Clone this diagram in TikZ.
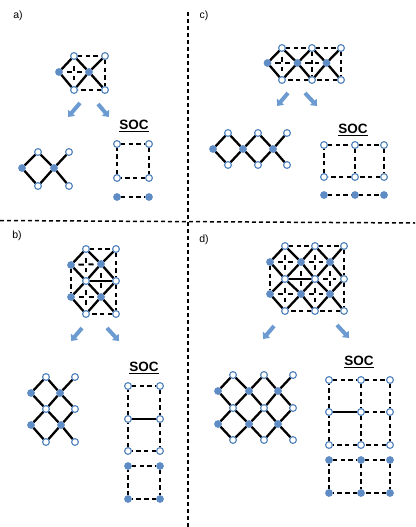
\documentclass[tikz,border=0pt]{standalone}
\usepackage{fontspec}
\setmainfont{Liberation Sans}
\usetikzlibrary{arrows.meta,backgrounds}
\definecolor{nodeblue}{RGB}{79,129,189}
\definecolor{fillblue}{RGB}{95,140,196}
\definecolor{arrowblue}{RGB}{108,155,209}
\tikzset{
  x=1pt,y=-1pt,
  opn/.style={circle,draw=nodeblue,fill=white,line width=1.1pt,minimum size=6.8pt,inner sep=0pt},
  fld/.style={circle,draw=fillblue,fill=fillblue,line width=0.4pt,minimum size=7.2pt,inner sep=0pt},
  sol/.style={line width=2.3pt,black,line cap=round},
  dsh/.style={line width=2pt,black,dash pattern=on 4.5pt off 3.2pt},
  plush/.style={line width=2pt,black,dash pattern=on 5.5pt off 4.5pt,shorten >=3.7pt,shorten <=3.7pt},
  plusv/.style={line width=2pt,black,dash pattern=on 5.5pt off 4.5pt,shorten >=4.7pt,shorten <=4.7pt},
  sep/.style={line width=1.5pt,black,dash pattern=on 4pt off 3pt},
  blk/.style={line width=4pt,arrowblue,-{Triangle[length=5.5pt,width=9pt]}},
  lab/.style={font=\fontsize{10.5pt}{12pt}\selectfont,inner sep=0pt},
  soc/.style={font=\bfseries\fontsize{13.5pt}{15pt}\selectfont,inner sep=0pt},
}
\begin{document}
\begin{tikzpicture}
\useasboundingbox (0,0) rectangle (415,527);
% labels
\node[lab] (la) at (18,16) {a)};
\node[lab] (lc) at (204,16) {c)};
\node[lab] (lb) at (17,236) {b)};
\node[lab] (ld) at (204,240) {d)};
\node[soc] (sa) at (134,126) {\underline{SOC}};
\node[soc] (sc) at (353,130) {\underline{SOC}};
\node[soc] (sb) at (144,368) {\underline{SOC}};
\node[soc] (sd) at (359,362) {\underline{SOC}};
% panel separators
\coordinate (v1) at (188,12);
\coordinate (v2) at (188,527);
\coordinate (h1) at (0,220.5);
\coordinate (h2) at (415,223);
\draw[sep] (v1) -- (v2);
\draw[sep] (h1) -- (h2);
% panel a nodes
\foreach \n/\x/\y in {at1/74/56,at2/105/56,ab1/74/90,ab2/105/90,
  bt1/38/152,bt2/69/152,bb1/38/186,bb2/69/186,
  s1/117/144,s2/149/144,s3/117/178,s4/149/178}
  \node[opn] (\n) at (\x,\y) {};
\foreach \n/\x/\y in {am1/59/72,am2/89/72,bm1/22/168,bm2/54/168,s5/117/197,s6/149/197}
  \node[fld] (\n) at (\x,\y) {};
% panel c nodes
\foreach \n/\x/\y in {ct1/282/48,ct2/312/48,ct3/341/48,cb1/282/80,cb2/312/80,cb3/341/80,
  dt1/228/133,dt2/258/133,dt3/287/133,db1/228/165,db2/258/165,db3/287/165,
  c1/324/145,c2/355/145,c3/384/145,c4/324/177,c5/355/177,c6/384/177}
  \node[opn] (\n) at (\x,\y) {};
\foreach \n/\x/\y in {cm1/267.5/63,cm2/297.5/63,cm3/326.5/63,dm1/213/149,dm2/243/149,dm3/273/149,
  c7/324/195,c8/355/195,c9/384/195}
  \node[fld] (\n) at (\x,\y) {};
% panel b nodes
\foreach \n/\x/\y in {et1/86/249,et2/116/249,em1/86/281,em2/116/281,eb1/86/314,eb2/116/314,
  ft1/46/377,ft2/75/377,fm1/46/409,fm2/75/409,fb1/46/442,fb2/75/442,
  e1/128/386,e2/160/386,e3/128/419,e4/160/419,e5/128/451,e6/160/451}
  \node[opn] (\n) at (\x,\y) {};
\foreach \n/\x/\y in {eu1/71/265,eu2/101/264,el1/71/297,el2/101/297,
  fu1/31/393,fu2/60/393,fl1/31/425,fl2/61/425,
  e7/128/466,e8/160/466,e9/128/499,e10/160/499}
  \node[fld] (\n) at (\x,\y) {};
% panel d nodes
\foreach \n/\x/\y in {gt1/285/246,gt2/315/246,gt3/344/246,gm1/285/279,gm2/315/279,gm3/344/279,gb1/285/311,gb2/315/311,gb3/344/311,
  ht1/233/375,ht2/264/375,ht3/293/375,hm1/233/408,hm2/264/408,hm3/293/408,hb1/233/440,hb2/264/440,hb3/293/440,
  k1/329/380,k2/361/380,k3/390/380,k4/329/412,k5/361/412,k6/390/412,k7/329/445,k8/361/445,k9/390/445}
  \node[opn] (\n) at (\x,\y) {};
\foreach \n/\x/\y in {gu1/270/262,gu2/301/262,gu3/330/262,gl1/270/294,gl2/301/294,gl3/330/294,
  hu1/218/391,hu2/249/391,hu3/278/391,hl1/218/424,hl2/249/424,hl3/278/424,
  n1/329/460,n2/361/460,n3/390/460,n4/329/493,n5/361/493,n6/390/493}
  \node[fld] (\n) at (\x,\y) {};
% block arrows
\foreach \i/\xa/\ya/\xb/\yb in {1/80/103/68/117,2/98/104/109/117,3/288/93/277/106,4/305/93/317/106,
  5/82/328/71/341,6/107/328/119/341,7/274/326/263/339,8/337/325/349/338}{
  \coordinate (p\i) at (\xa,\ya);
  \coordinate (q\i) at (\xb,\yb);
  \draw[blk] (p\i) -- (q\i);
}
\begin{scope}[on background layer]
% panel a
\draw[dsh] (at1) -- (at2) -- (ab2) -- (ab1);
\draw[plush] (am1) -- (am2);
\draw[plusv,shorten >=5.7pt,shorten <=5.7pt] (at1) -- (ab1);
\draw[sol] (am1) -- (at1) -- (am2) -- (ab1) -- (am1);
\draw[sol] (at2) -- (am2) -- (ab2);
\draw[sol] (bm1) -- (bt1) -- (bm2) -- (bb1) -- (bm1);
\draw[sol] (bt2) -- (bm2) -- (bb2);
\draw[dsh] (s1) -- (s2) -- (s4) -- (s3) -- (s1);
\draw[dsh] (s5) -- (s6);
% panel c
\draw[dsh] (ct1) -- (ct2) -- (ct3) -- (cb3) -- (cb2) -- (cb1);
\draw[dsh] (ct2) -- (cb2);
\draw[plusv] (ct1) -- (cb1);
\draw[plush] (cm1) -- (cm2);
\draw[plush] (cm2) -- (cm3);
\draw[sol] (cm1) -- (ct1) -- (cm2) -- (ct2) -- (cm3) -- (ct3);
\draw[sol] (cm1) -- (cb1) -- (cm2) -- (cb2) -- (cm3) -- (cb3);
\draw[sol] (dm1) -- (dt1) -- (dm2) -- (dt2) -- (dm3) -- (dt3);
\draw[sol] (dm1) -- (db1) -- (dm2) -- (db2) -- (dm3) -- (db3);
\draw[dsh] (c1) -- (c2) -- (c3) -- (c6) -- (c5) -- (c4) -- (c1);
\draw[dsh] (c2) -- (c5);
\draw[dsh] (c7) -- (c8) -- (c9);
% panel b
\draw[dsh] (et1) -- (et2) -- (em2) -- (eb2) -- (eb1);
\draw[plush] (eu1) -- (eu2);
\draw[plush] (el1) -- (el2);
\draw[dsh] (eu1) -- (el1);
\draw[plusv] (et1) -- (em1);
\draw[plusv] (em1) -- (eb1);
\draw[plusv] (eu2) -- (el2);
\draw[sol] (em1) -- (em2);
\draw[sol] (eu1) -- (et1) -- (eu2) -- (et2);
\draw[sol] (eu1) -- (em1) -- (eu2) -- (em2);
\draw[sol] (el1) -- (em1) -- (el2) -- (em2);
\draw[sol] (el1) -- (eb1) -- (el2) -- (eb2);
\draw[sol] (fu1) -- (ft1) -- (fu2) -- (ft2);
\draw[sol] (fu1) -- (fm1) -- (fu2) -- (fm2);
\draw[sol] (fl1) -- (fm1) -- (fl2) -- (fm2);
\draw[sol] (fl1) -- (fb1) -- (fl2) -- (fb2);
\draw[dsh] (e1) -- (e2) -- (e4) -- (e6) -- (e5) -- (e3) -- (e1);
\draw[sol] (e3) -- (e4);
\draw[dsh] (e7) -- (e8) -- (e10) -- (e9) -- (e7);
% panel d
\draw[dsh] (gt1) -- (gt2) -- (gt3) -- (gm3) -- (gb3) -- (gb2) -- (gb1);
\draw[dsh] (gu1) -- (gl1);
\draw[sol] (gm1) -- (gm2);
\foreach \a/\b in {gu1/gu2,gu2/gu3,gl1/gl2,gl2/gl3,gm2/gm3}
  \draw[plush] (\a) -- (\b);
\foreach \a/\b in {gt1/gm1,gm1/gb1,gt2/gm2,gm2/gb2,gu2/gl2,gu3/gl3}
  \draw[plusv] (\a) -- (\b);
\draw[sol] (gu1) -- (gt1) -- (gu2) -- (gt2) -- (gu3) -- (gt3);
\draw[sol] (gu1) -- (gm1) -- (gu2) -- (gm2) -- (gu3) -- (gm3);
\draw[sol] (gl1) -- (gm1) -- (gl2) -- (gm2) -- (gl3) -- (gm3);
\draw[sol] (gl1) -- (gb1) -- (gl2) -- (gb2) -- (gl3) -- (gb3);
\draw[sol] (hu1) -- (ht1) -- (hu2) -- (ht2) -- (hu3) -- (ht3);
\draw[sol] (hu1) -- (hm1) -- (hu2) -- (hm2) -- (hu3) -- (hm3);
\draw[sol] (hl1) -- (hm1) -- (hl2) -- (hm2) -- (hl3) -- (hm3);
\draw[sol] (hl1) -- (hb1) -- (hl2) -- (hb2) -- (hl3) -- (hb3);
\draw[dsh] (k1) -- (k2) -- (k3) -- (k6) -- (k9) -- (k8) -- (k7);
\draw[dsh] (k2) -- (k5) -- (k8);
\draw[dsh] (k7) -- (k4) -- (k1);
\draw[sol] (k4) -- (k5);
\draw[dsh] (k5) -- (k6);
\draw[dsh] (n1) -- (n2) -- (n3) -- (n6) -- (n5) -- (n4) -- (n1);
\draw[dsh] (n2) -- (n5);
\end{scope}
\end{tikzpicture}
\end{document}
